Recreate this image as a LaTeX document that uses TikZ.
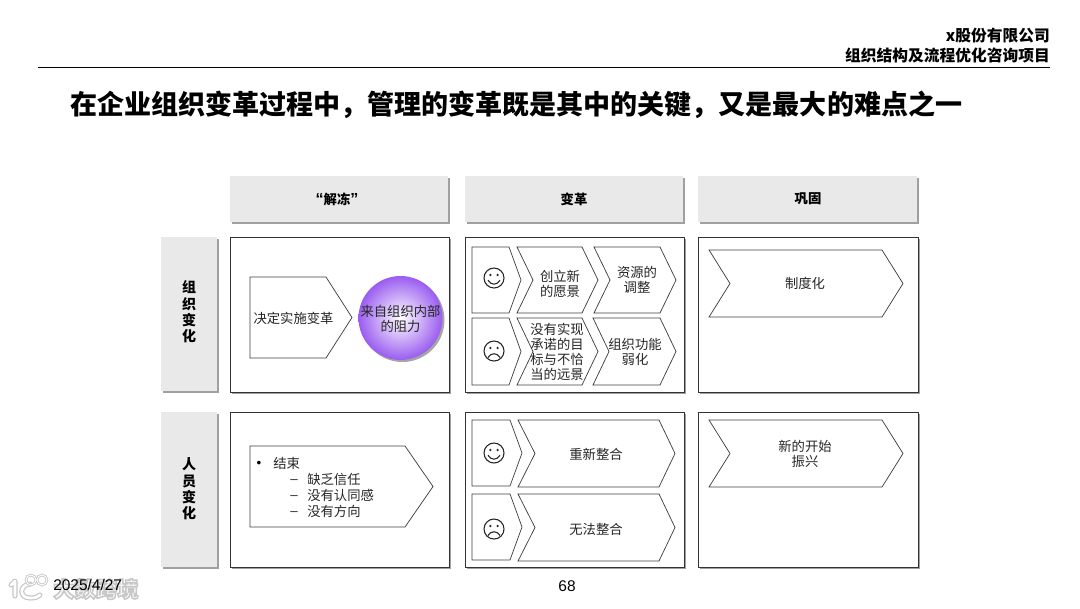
\documentclass[tikz,border=0pt]{standalone}
\usepackage{fontspec}
\setmainfont{Liberation Sans}
\newfontfamily\cjk{Noto Sans CJK SC}
\usetikzlibrary{shadings}
\definecolor{panelgray}{HTML}{E9E9E9}
\definecolor{shadowgray}{HTML}{A0A0A0}
\definecolor{linegray}{HTML}{404040}
\definecolor{ballpurple}{HTML}{9A5CF0}
\tikzset{
  x=0.75pt,y=-0.75pt,
  panel/.style={fill=panelgray,draw=none},
  shadowbox/.style={fill=shadowgray,draw=none},
  framebox/.style={fill=white,draw=black!80,line width=0.7pt},
  shapeline/.style={draw=linegray,line width=0.55pt,fill=white},
  body/.style={font=\cjk\fontsize{10}{11.6}\selectfont,align=center,inner sep=0pt,text=black!85},
  tight/.style={font=\cjk\fontsize{10}{11.2}\selectfont,align=center,inner sep=0pt,text=black!85},
  head/.style={font=\cjk\bfseries\fontsize{10}{12}\selectfont,align=center,inner sep=0pt},
  vlabel/.style={font=\cjk\bfseries\fontsize{10.5}{12.2}\selectfont,align=center,inner sep=0pt},
  face/.style={draw=black!85,line width=0.8pt,fill=white},
  listitem/.style={font=\cjk\fontsize{10}{12}\selectfont,anchor=west,inner sep=0pt,text=black!85},
  listmark/.style={font=\fontsize{10}{12}\selectfont,anchor=west,inner sep=0pt,text=black!85},
  mark line/.style={draw=black!85,line width=0.8pt},
}
\newcommand{\PanelBox}[4]{\fill[shadowbox] (#1+2,#2+2) rectangle (#3+2,#4+2);\fill[panel] (#1,#2) rectangle (#3,#4);}
\newcommand{\FrameBox}[4]{\fill[shadowbox] (#1+2,#2+2) rectangle (#3+2,#4+2);\draw[framebox] (#1,#2) rectangle (#3,#4);}
% left, notch, shoulder, tip, top, bottom
\newcommand{\Chev}[6]{\draw[shapeline] (#1,#5) -- (#3,#5) -- (#4,{(#5+#6)/2}) -- (#3,#6) -- (#1,#6) -- (#2,{(#5+#6)/2}) -- cycle;}
\newcommand{\Pent}[5]{\draw[shapeline] (#1,#4) -- (#2,#4) -- (#3,{(#4+#5)/2}) -- (#2,#5) -- (#1,#5) -- cycle;}
\newcommand{\Happy}[2]{\draw[face] (#1,#2) circle (10);
  \fill[black!85] (#1-3.6,#2-3) circle (1.3) (#1+3.6,#2-3) circle (1.3);
  \draw[mark line] (#1-6,#2+2.2) .. controls (#1-3,#2+7.5) and (#1+3,#2+7.5) .. (#1+6,#2+2.2);}
\newcommand{\Sad}[2]{\draw[face] (#1,#2) circle (10);
  \fill[black!85] (#1-3.6,#2-3) circle (1.3) (#1+3.6,#2-3) circle (1.3);
  \draw[mark line] (#1-6,#2+6.5) .. controls (#1-3,#2+1.5) and (#1+3,#2+1.5) .. (#1+6,#2+6.5);}
\begin{document}
\begin{tikzpicture}
\useasboundingbox (0,0) rectangle (1080,608);
\fill[white] (0,0) rectangle (1080,608);

% page header
\node[anchor=east,inner sep=0pt,font=\cjk\bfseries\fontsize{11.8}{14}\selectfont] (company) at (1050,36) {x股份有限公司};
\node[anchor=east,inner sep=0pt,font=\cjk\bfseries\fontsize{11.8}{14}\selectfont] (project) at (1050,55) {组织结构及流程优化咨询项目};
\coordinate (ruleL) at (38,67); \coordinate (ruleR) at (1050,67);
\draw[black,line width=0.6pt] (ruleL) -- (ruleR);
\node[anchor=west,inner sep=0pt,font=\cjk\bfseries\fontsize{20.27}{24}\selectfont] (title) at (70,105) {在企业组织变革过程中，管理的变革既是其中的关键，又是最大的难点之一};

% column headers
\PanelBox{230}{176}{448}{222}
\PanelBox{465}{176}{683}{222}
\PanelBox{698}{176}{917}{222}
\node[head] (h1) at (337,199) {{\rmfamily\bfseries\fontsize{12}{12}\selectfont “}解冻{\rmfamily\bfseries\fontsize{12}{12}\selectfont ”}};
\node[head] (h2) at (574,199) {变革};
\node[head] (h3) at (808,199) {巩固};

% row labels
\PanelBox{161}{237}{217}{391}
\PanelBox{161}{412}{217}{567}
\node[vlabel] (r1) at (189,312) {组\\织\\变\\化};
\node[vlabel] (r2) at (189,489) {人\\员\\变\\化};

% frames
\FrameBox{230}{237}{449}{392}
\FrameBox{465}{237}{684}{392}
\FrameBox{698}{237}{918}{392}
\FrameBox{230}{412}{449}{567}
\FrameBox{465}{412}{684}{567}
\FrameBox{698}{412}{918}{567}

% unfreeze / organisation
\Pent{250}{326}{352}{277}{358}
\node[body] (decide) at (293.5,318) {决定实施变革};
\fill[black!35] (402.5,320) circle (42);
\shade[inner color=white,outer color=ballpurple] (400.5,318) circle (42);
\node[body] (resist) at (400.5,319) {来自组织内部\\的阻力};

% change / organisation
\Pent{472}{509}{521}{247}{313}
\Happy{494}{278}
\Chev{517}{533}{582}{598}{247}{313}
\node[body] (c1) at (560,284) {创立新\\的愿景};
\Chev{594}{610}{660}{676}{247}{313}
\node[body] (c2) at (637,280) {资源的\\调整};
\Pent{472}{509}{521}{318}{385}
\Sad{494}{351}
\Chev{517}{533}{582}{598}{318}{385}
\node[tight] (c3) at (557,352) {没有实现\\承诺的目\\标与不恰\\当的远景};
\Chev{593}{609}{660}{676}{318}{385}
\node[body] (c4) at (635,352) {组织功能\\弱化};

% refreeze / organisation
\Chev{709}{730}{882}{903}{250}{317}
\node[body] (f1) at (805,283) {制度化};

% unfreeze / people
\Pent{250}{405}{433}{446}{527}
\node[font=\fontsize{10}{12}\selectfont,inner sep=0pt] (b0) at (259,464.5) {•};
\node[listitem] (l0) at (273,463) {结束};
\node[listmark] (d1) at (290,481.5) {–};
\node[listitem] (l1) at (307,479) {缺乏信任};
\node[listmark] (d2) at (290,497.5) {–};
\node[listitem] (l2) at (307,495) {没有认同感};
\node[listmark] (d3) at (290,513.5) {–};
\node[listitem] (l3) at (307,511) {没有方向};

% change / people
\Pent{472}{510}{522}{420}{486}
\Happy{494}{453}
\Chev{518}{535}{659}{675}{420}{487}
\node[body] (p1) at (596,454) {重新整合};
\Pent{472}{510}{522}{494}{560}
\Sad{494}{529}
\Chev{518}{535}{659}{675}{494}{561}
\node[body] (p2) at (596,529) {无法整合};

% refreeze / people
\Chev{709}{730}{882}{903}{420}{487}
\node[body] (f2) at (805,454) {新的开始\\振兴};

% watermark
\foreach \wmw/\wmc in {3.8pt/black!22,2pt/white}{
  \draw[draw=\wmc,line width=\wmw,line cap=round,line join=round] (11,585) -- (15,581) -- (15,596);
  \draw[draw=\wmc,line width=\wmw,line cap=round] (30,584) .. controls (19,585) and (19,598) .. (30,598) .. controls (35,598) and (38,597) .. (40,595);
}
\foreach \wmw/\wmc in {2pt/black!22,0.7pt/white}{
  \draw[draw=\wmc,line width=\wmw] (31,580) circle (5) (42,580) circle (5);
}
\node[anchor=west,inner sep=0pt,font=\cjk\bfseries\fontsize{16}{18}\selectfont] (wm) at (53,589) {\special{pdf:code q 2 Tr 1.1 w 0.78 G 0.97 g}大数跨境\special{pdf:code 0 Tr Q}};

% footer
\node[anchor=west,inner sep=0pt,font=\fontsize{11.6}{12}\selectfont] (date) at (53,585) {2025/4/27};
\node[inner sep=0pt,font=\fontsize{11.6}{12}\selectfont] (page) at (567,586) {68};
\end{tikzpicture}
\end{document}
